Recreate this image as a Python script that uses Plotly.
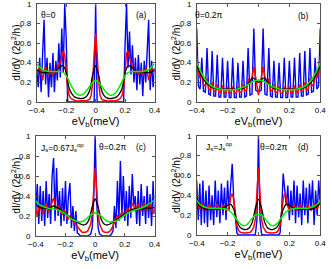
import numpy as np
import plotly.graph_objects as go

# ---------------- grids (meV) ----------------
x_fine = np.round(np.linspace(-0.40, 0.40, 81), 3)    # step 0.01
x_coarse = np.round(np.linspace(-0.40, 0.40, 41), 3)  # step 0.02

# ---------------- panel (a) ----------------
a_blue = [0.33, 0.15, 0.45, 0.10, 0.50, 0.84, 0.18, 0.45, 0.05, 0.40, 0.15, 0.50, 0.10, 0.42, 0.22, 0.60, 0.25, 0.75, 0.30, 1.00, 0.65,
          0, 0, 0, 0, 0, 0, 0, 0, 0, 0, 0, 0, 0, 0, 0, 0, 0, 0, 0,
          1.00,
          0, 0, 0, 0, 0, 0, 0, 0, 0, 0, 0, 0, 0, 0, 0, 0, 0, 0, 0,
          0.60, 1.00, 0.35, 0.72, 0.28, 0.58, 0.20, 0.45, 0.12, 0.48, 0.18, 0.40, 0.06, 0.42, 0.20, 0.50, 0.84, 0.12, 0.42, 0.15, 0.35]
a_red = [0.28, 0.33, 0.35, 0.28, 0.22, 0.32, 0.36, 0.30, 0.27, 0.33, 0.30, 0.27, 0.33, 0.30, 0.33, 0.38, 0.40, 0.46, 0.52, 0.48,
         0.30, 0.14, 0.07, 0.04, 0.03, 0.02, 0.015, 0.01, 0.01, 0.01, 0.01, 0.01, 0.01, 0.01, 0.015, 0.02, 0.03, 0.07, 0.20, 0.50,
         0.70,
         0.50, 0.20, 0.07, 0.03, 0.02, 0.015, 0.01, 0.01, 0.01, 0.01, 0.01, 0.01, 0.01, 0.015, 0.02, 0.03, 0.04, 0.07, 0.14, 0.30,
         0.50, 0.52, 0.45, 0.40, 0.36, 0.32, 0.30, 0.33, 0.28, 0.30, 0.33, 0.27, 0.30, 0.35, 0.32, 0.22, 0.28, 0.35, 0.33, 0.30]
a_black = [0.33, 0.31, 0.30, 0.30, 0.30, 0.31, 0.31, 0.33, 0.36, 0.37, 0.30, 0.14, 0.08, 0.05, 0.04, 0.035, 0.04, 0.06, 0.12, 0.28,
           0.37,
           0.28, 0.12, 0.06, 0.04, 0.035, 0.04, 0.05, 0.08, 0.14, 0.30, 0.37, 0.36, 0.33, 0.31, 0.31, 0.30, 0.30, 0.30, 0.31, 0.33]
a_green = [0.39, 0.36, 0.33, 0.32, 0.31, 0.31, 0.31, 0.31, 0.31, 0.30, 0.27, 0.21, 0.15, 0.10, 0.075, 0.07, 0.085, 0.12, 0.16, 0.20,
           0.22,
           0.20, 0.16, 0.12, 0.085, 0.07, 0.075, 0.10, 0.15, 0.21, 0.27, 0.30, 0.31, 0.31, 0.31, 0.31, 0.31, 0.32, 0.33, 0.36, 0.39]

# ---------------- panel (b) ----------------
b_x = [-0.400, -0.389, -0.378, -0.367, -0.356, -0.344, -0.333, -0.322, -0.311, -0.300, -0.289, -0.278, -0.267, -0.256, -0.244,
       -0.233, -0.222, -0.211, -0.200, -0.189, -0.178, -0.167, -0.156, -0.144, -0.133, -0.122, -0.111, -0.100, -0.089, -0.078,
       -0.067, -0.055, -0.042, -0.030, -0.018,
       0.0,
       0.018, 0.030, 0.042, 0.055, 0.067, 0.078, 0.089, 0.100, 0.111, 0.122, 0.133, 0.144, 0.156, 0.167, 0.178,
       0.189, 0.200, 0.211, 0.222, 0.233, 0.244, 0.256, 0.267, 0.278, 0.289, 0.300, 0.311, 0.322, 0.333, 0.344,
       0.356, 0.367, 0.378, 0.389, 0.400]
b_blue = [0.75, 0.16, 0.13, 0.45, 0.11, 0.10, 0.55, 0.08, 0.07, 0.52, 0.06, 0.06, 0.48, 0.05, 0.05,
          0.45, 0.05, 0.05, 0.42, 0.045, 0.045, 0.45, 0.045, 0.045, 0.40, 0.05, 0.05, 0.42, 0.05, 0.06,
          0.55, 0.07, 0.08, 0.75, 0.12,
          0.10,
          0.12, 0.75, 0.08, 0.07, 0.55, 0.06, 0.05, 0.42, 0.05, 0.05, 0.40, 0.045, 0.045, 0.45, 0.045,
          0.045, 0.42, 0.05, 0.05, 0.45, 0.05, 0.05, 0.50, 0.06, 0.06, 0.52, 0.07, 0.08, 0.55, 0.10,
          0.11, 0.45, 0.13, 0.16, 0.75]
b_red = [0.47, 0.32, 0.24, 0.30, 0.18, 0.16, 0.24, 0.13, 0.12, 0.20, 0.11, 0.11, 0.18, 0.10, 0.10,
         0.17, 0.09, 0.09, 0.16, 0.09, 0.09, 0.16, 0.09, 0.09, 0.16, 0.10, 0.10, 0.18, 0.11, 0.12,
         0.24, 0.18, 0.25, 0.36, 0.25,
         0.07,
         0.25, 0.36, 0.25, 0.18, 0.24, 0.12, 0.11, 0.18, 0.10, 0.10, 0.16, 0.09, 0.09, 0.16, 0.09,
         0.09, 0.16, 0.09, 0.09, 0.17, 0.10, 0.10, 0.18, 0.11, 0.11, 0.20, 0.12, 0.13, 0.24, 0.16,
         0.18, 0.30, 0.24, 0.32, 0.47]
b_black = [0.38, 0.30, 0.24, 0.20, 0.17, 0.15, 0.14, 0.135, 0.13, 0.13, 0.13, 0.13, 0.13, 0.13, 0.135, 0.14, 0.16, 0.20, 0.245, 0.23,
           0.20,
           0.23, 0.245, 0.20, 0.16, 0.14, 0.135, 0.13, 0.13, 0.13, 0.13, 0.13, 0.13, 0.135, 0.14, 0.15, 0.17, 0.20, 0.24, 0.30, 0.38]
b_green = [0.40, 0.33, 0.27, 0.22, 0.185, 0.16, 0.145, 0.135, 0.13, 0.125, 0.125, 0.125, 0.125, 0.13, 0.14, 0.15, 0.165, 0.185, 0.205, 0.22,
           0.225,
           0.22, 0.205, 0.185, 0.165, 0.15, 0.14, 0.13, 0.125, 0.125, 0.125, 0.125, 0.13, 0.135, 0.145, 0.16, 0.185, 0.22, 0.27, 0.33, 0.40]

# ---------------- panel (c) ----------------
c_blue = [0.25, 0.52, 0.12, 0.50, 0.15, 0.45, 0.10, 0.55, 0.18, 0.42, 0.12, 0.60, 0.78, 0.15, 0.68, 0.20, 0.45, 0.10, 0.48, 0.15,
          0.55, 0.12, 0.40, 0.53, 0.08, 0.30, 0.05, 0.25, 0.03, 0.02, 0, 0, 0, 0, 0, 0, 0.01, 0.02, 0.08, 0.35,
          1.00,
          0.35, 0.08, 0.02, 0.01, 0, 0, 0, 0, 0, 0, 0.02, 0.05, 0.30, 0.08, 0.55, 0.15, 0.75, 0.20, 0.60, 0.15,
          0.45, 0.10, 0.50, 0.18, 0.62, 0.30, 0.40, 0.12, 0.45, 0.10, 0.52, 0.20, 0.40, 0.12, 0.50, 0.18, 0.42, 0.10, 0.55, 0.22]
c_red = [0.27, 0.20, 0.28, 0.30, 0.25, 0.22, 0.30, 0.32, 0.26, 0.24, 0.30, 0.35, 0.38, 0.32, 0.27, 0.30, 0.28, 0.23, 0.22, 0.26,
         0.24, 0.18, 0.17, 0.20, 0.19, 0.15, 0.13, 0.12, 0.09, 0.07, 0.05, 0.04, 0.035, 0.035, 0.04, 0.05, 0.08, 0.12, 0.22, 0.48,
         0.68,
         0.48, 0.22, 0.12, 0.08, 0.05, 0.04, 0.035, 0.035, 0.04, 0.05, 0.07, 0.10, 0.13, 0.17, 0.20, 0.18, 0.20, 0.25, 0.22, 0.20,
         0.25, 0.28, 0.24, 0.26, 0.33, 0.30, 0.25, 0.28, 0.32, 0.27, 0.25, 0.30, 0.33, 0.28, 0.25, 0.30, 0.33, 0.26, 0.22, 0.28]
c_black = [0.31, 0.29, 0.28, 0.28, 0.28, 0.285, 0.30, 0.29, 0.27, 0.25, 0.22, 0.20, 0.18, 0.16, 0.14, 0.12, 0.11, 0.12, 0.17, 0.29,
           0.37,
           0.29, 0.17, 0.12, 0.11, 0.12, 0.14, 0.16, 0.18, 0.20, 0.22, 0.24, 0.26, 0.27, 0.27, 0.27, 0.27, 0.28, 0.28, 0.28, 0.29]
c_green = [0.35, 0.32, 0.30, 0.29, 0.28, 0.275, 0.27, 0.265, 0.255, 0.24, 0.22, 0.195, 0.17, 0.155, 0.145, 0.14, 0.15, 0.17, 0.20, 0.22,
           0.23,
           0.22, 0.20, 0.17, 0.15, 0.14, 0.145, 0.15, 0.165, 0.185, 0.21, 0.23, 0.245, 0.255, 0.265, 0.275, 0.285, 0.30, 0.32, 0.34, 0.36]

# ---------------- panel (d) ----------------
d_blue = [0.55, 0.15, 0.52, 0.10, 0.55, 0.12, 0.45, 0.08, 0.50, 0.15, 0.40, 0.10, 0.55, 0.18, 0.45, 0.12, 0.52, 0.20, 0.48, 0.15,
          0.55, 0.25, 0.50, 0.72, 0.35, 0.20, 0.02, 0, 0, 0, 0, 0, 0, 0, 0, 0, 0, 0, 0.01, 0.15,
          1.00,
          0.15, 0.01, 0, 0, 0, 0, 0, 0, 0, 0, 0, 0, 0, 0.02, 0.25, 0.62, 0.48, 0.30, 0.50, 0.15,
          0.45, 0.20, 0.55, 0.12, 0.50, 0.18, 0.42, 0.10, 0.55, 0.20, 0.48, 0.12, 0.52, 0.25, 0.55, 0.10, 0.45, 0.20, 0.55, 0.30]
d_red = [0.32, 0.30, 0.26, 0.28, 0.31, 0.28, 0.25, 0.27, 0.30, 0.29, 0.27, 0.26, 0.29, 0.31, 0.28, 0.25, 0.27, 0.30, 0.29, 0.25,
         0.25, 0.29, 0.38, 0.42, 0.36, 0.22, 0.10, 0.05, 0.03, 0.025, 0.02, 0.02, 0.02, 0.02, 0.025, 0.03, 0.05, 0.08, 0.16, 0.42,
         0.68,
         0.42, 0.16, 0.08, 0.05, 0.03, 0.025, 0.02, 0.02, 0.02, 0.02, 0.025, 0.03, 0.05, 0.10, 0.22, 0.36, 0.42, 0.38, 0.29, 0.25,
         0.25, 0.29, 0.30, 0.27, 0.25, 0.28, 0.31, 0.29, 0.26, 0.27, 0.29, 0.30, 0.27, 0.25, 0.28, 0.31, 0.28, 0.26, 0.30, 0.32]
d_black = [0.33, 0.29, 0.27, 0.26, 0.26, 0.26, 0.26, 0.26, 0.27, 0.28, 0.30, 0.31, 0.26, 0.14, 0.08, 0.06, 0.055, 0.07, 0.13, 0.27,
           0.36,
           0.27, 0.13, 0.07, 0.055, 0.06, 0.08, 0.14, 0.26, 0.31, 0.30, 0.28, 0.27, 0.26, 0.26, 0.26, 0.26, 0.26, 0.27, 0.29, 0.33]
d_green = [0.35, 0.31, 0.29, 0.28, 0.27, 0.27, 0.27, 0.27, 0.27, 0.265, 0.255, 0.235, 0.20, 0.155, 0.115, 0.095, 0.10, 0.13, 0.17, 0.20,
           0.21,
           0.20, 0.17, 0.13, 0.10, 0.095, 0.115, 0.155, 0.20, 0.235, 0.255, 0.265, 0.27, 0.27, 0.27, 0.27, 0.27, 0.28, 0.29, 0.31, 0.35]

x_ticks = [-0.4, -0.2, 0, 0.2, 0.4]
x_tick_text = ["\u22120.4", "\u22120.2", "0", "0.2", "0.4"]
y_ticks = [0, 0.2, 0.4, 0.6, 0.8, 1]
y_tick_text = ["0", "0.2", "0.4", "0.6", "0.8", "1"]

panels = [
    dict(bx=x_fine, blue=a_blue, red=a_red, black=a_black, green=a_green,
         labels=[("\u03b8=0", -0.32, 0.89), ("(a)", 0.31, 0.89)]),
    dict(bx=b_x, blue=b_blue, red=b_red, black=b_black, green=b_green,
         labels=[("\u03b8=0.2\u03c0", -0.32, 0.89), ("(b)", 0.29, 0.88)]),
    dict(bx=x_fine, blue=c_blue, red=c_red, black=c_black, green=c_green,
         labels=[("J<sub>s</sub>=0.67J<sub>s</sub><sup>op</sup>", -0.22, 0.89), ("\u03b8=0.2\u03c0", 0.12, 0.89), ("(c)", 0.31, 0.89)]),
    dict(bx=x_fine, blue=d_blue, red=d_red, black=d_black, green=d_green,
         labels=[("J<sub>s</sub>=J<sub>s</sub><sup>op</sup>", -0.25, 0.89), ("\u03b8=0.2\u03c0", 0.10, 0.89), ("(d)", 0.29, 0.89)]),
]

W, H = 332, 269
# plot-area boxes in pixels: (left, right, top, bottom)
boxes = [(30, 153, 4, 102), (197, 326, 4, 102), (29, 153, 136, 236), (197, 326, 136, 235)]
ytitle_x = [8, 175, 8, 175]

fig = go.Figure()
font = "Liberation Sans, Arial, sans-serif"
for i, (p, box) in enumerate(zip(panels, boxes)):
    k = "" if i == 0 else str(i + 1)
    xa, ya = "x" + k, "y" + k
    fig.add_trace(go.Scatter(x=p["bx"], y=p["blue"], mode="lines", line=dict(color="#0000ff", width=1.4),
                             xaxis=xa, yaxis=ya, showlegend=False))
    fig.add_trace(go.Scatter(x=p["bx"], y=p["red"], mode="lines", line=dict(color="#ff0000", width=1.5),
                             xaxis=xa, yaxis=ya, showlegend=False))
    fig.add_trace(go.Scatter(x=x_coarse, y=p["black"], mode="lines", line=dict(color="#000000", width=1.3, shape="spline", smoothing=0.8),
                             xaxis=xa, yaxis=ya, showlegend=False))
    fig.add_trace(go.Scatter(x=x_coarse, y=p["green"], mode="lines", line=dict(color="#00ee00", width=1.5, shape="spline", smoothing=0.8),
                             xaxis=xa, yaxis=ya, showlegend=False))
    l, r, t, b = box
    fig.update_layout({
        "xaxis" + k: dict(domain=[l / W, r / W], range=[-0.4, 0.4], anchor=ya,
                          showline=True, linecolor="#555555", linewidth=1, mirror="ticks", ticks="inside", ticklen=3,
                          tickcolor="#555555", showgrid=False, zeroline=False, showticklabels=True,
                          tickfont=dict(family=font, size=8, color="#000000"),
                          tickvals=x_ticks, ticktext=x_tick_text,
                          title=dict(text="eV<sub>b</sub>(meV)", font=dict(family=font, size=11, color="#000000"), standoff=2)),
        "yaxis" + k: dict(domain=[1 - b / H, 1 - t / H], range=[0, 1], anchor=xa,
                          showline=True, linecolor="#555555", linewidth=1, mirror="ticks", ticks="inside", ticklen=3,
                          tickcolor="#555555", showgrid=False, zeroline=False, showticklabels=False,
                          tickvals=y_ticks),
    })
    # y tick labels, placed through the y axis scale
    for v, s in zip(y_ticks, y_tick_text):
        fig.add_annotation(text=s, x=-3.0 / (r - l), xref=xa + " domain", y=v, yref=ya, showarrow=False,
                           xanchor="right", yanchor="middle", font=dict(family=font, size=8, color="#000000"))
    # y axis title
    fig.add_annotation(text="dI/dV (2e<sup>2</sup>/h)", x=ytitle_x[i] / W, xref="paper", y=0.5, yref=ya + " domain",
                       textangle=-90, showarrow=False, xanchor="center", yanchor="middle",
                       font=dict(family=font, size=10, color="#000000"))
    for txt, xx, yy in p["labels"]:
        fig.add_annotation(text=txt, x=xx, y=yy, xref=xa, yref=ya, showarrow=False,
                           font=dict(family=font, size=8.5, color="#000000"), xanchor="center", yanchor="middle")

fig.update_layout(width=W, height=H, margin=dict(l=0, r=0, t=0, b=0),
                  paper_bgcolor="white", plot_bgcolor="white")
fig.write_html("out.html", config={"displayModeBar": False},
               post_script="document.body.style.margin='0';document.body.style.overflow='hidden';")
